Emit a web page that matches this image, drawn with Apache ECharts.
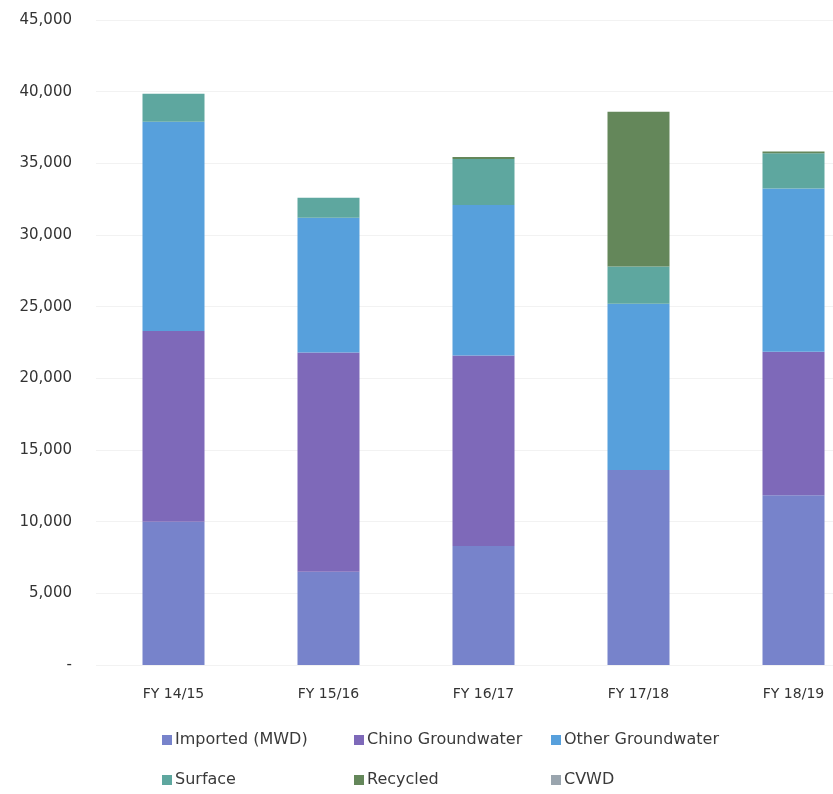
<!DOCTYPE html>
<html>
<head>
<meta charset="utf-8">
<script src="https://cdn.jsdelivr.net/npm/echarts@6/dist/echarts.min.js"></script>
<style>
html,body{margin:0;padding:0;background:#fff;}
#chart{width:833px;height:794px;}
</style>
</head>
<body>
<div id="chart"></div>
<script>
const categories = ['FY 14/15', 'FY 15/16', 'FY 16/17', 'FY 17/18', 'FY 18/19'];
const seriesNames = ['Imported (MWD)', 'Chino Groundwater', 'Other Groundwater', 'Surface', 'Recycled', 'CVWD'];
const imported = [10000, 6500, 8300, 13600, 11850];
const chinoGW = [13300, 15300, 13300, 0, 10000];
const otherGW = [14600, 9400, 10500, 11600, 11400];
const surface = [1950, 1400, 3200, 2600, 2450];
const recycled = [0, 0, 150, 10800, 120];
const cvwd = [0, 0, 0, 0, 0];
const yTicks = [0, 5000, 10000, 15000, 20000, 25000, 30000, 35000, 40000, 45000];

const values = [imported, chinoGW, otherGW, surface, recycled, cvwd];
const colors = ['#7783cb', '#7e69b9', '#57a0dc', '#5ea79f', '#64875a', '#9aa5ae'];

const chart = echarts.init(document.getElementById('chart'));
const font = 'DejaVu Sans';

const legendPos = [
  {left: 162, top: 732}, {left: 354, top: 732}, {left: 551, top: 732},
  {left: 162, top: 772}, {left: 354, top: 772}, {left: 551, top: 772}
];

const option = {
  backgroundColor: '#ffffff',
  animation: false,
  grid: {left: 96, width: 775, top: 20, height: 645, containLabel: false, outerBoundsMode: 'none'},
  legend: seriesNames.map((n, i) => ({
    data: [n],
    left: legendPos[i].left,
    top: legendPos[i].top,
    icon: 'rect',
    itemWidth: 10,
    itemHeight: 10,
    itemGap: 0,
    padding: 0,
    textStyle: {fontFamily: font, fontSize: 16, color: '#3a3a3a', padding: [0, 0, 0, -2]}
  })),
  xAxis: {
    type: 'category',
    data: categories,
    axisLine: {show: false},
    axisTick: {show: false},
    axisLabel: {fontFamily: font, fontSize: 14, color: '#333', margin: 22}
  },
  yAxis: {
    type: 'value',
    min: yTicks[0],
    max: yTicks[yTicks.length - 1],
    interval: 5000,
    axisLine: {show: false},
    axisTick: {show: false},
    splitLine: {lineStyle: {color: '#f2f2f2', width: 1}},
    axisLabel: {
      fontFamily: font, fontSize: 15, color: '#333', margin: 24,
      formatter: v => v === 0 ? '-' : v.toLocaleString('en-US')
    }
  },
  series: seriesNames.map((n, i) => ({
    name: n,
    type: 'bar',
    stack: 'total',
    barWidth: 62,
    itemStyle: {color: colors[i]},
    data: values[i]
  }))
};
chart.setOption(option);
</script>
</body>
</html>
